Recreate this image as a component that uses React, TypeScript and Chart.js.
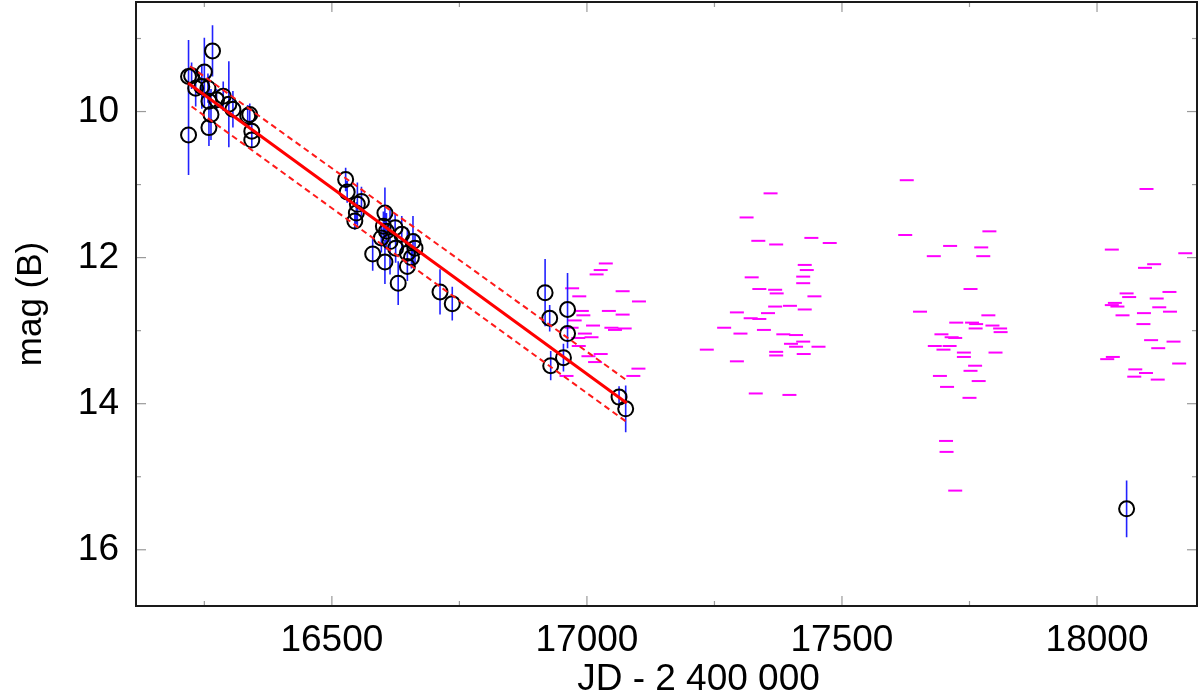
import React, { useEffect, useRef } from "react";
import { Chart, registerables } from "chart.js";

Chart.register(...registerables);

const FONT = "'Liberation Sans', Arial, Helvetica, sans-serif";

// Axis ranges and ticks
const X_MIN = 16116;
const X_MAX = 18196;
const Y_MIN = 8.5;
const Y_MAX = 16.77;
const xMajorTicks = [16500, 17000, 17500, 18000];
const xMinorTicks = [16250, 16750, 17250, 17750];
const yMajorTicks = [10, 12, 14, 16];
const yMinorTicks = [9, 11, 13, 15];

// Photometric points with error bars (JD - 2400000, B mag, error)
const obsJD = [
  16219, 16225, 16233, 16245, 16250, 16257, 16259, 16259, 16263, 16266,
  16274, 16287, 16298, 16306, 16335, 16339, 16343, 16343, 16219,
  16527, 16530, 16545, 16548, 16550, 16558, 16580, 16597, 16601, 16604,
  16604, 16607, 16614, 16624, 16625, 16630, 16637, 16648, 16648, 16656,
  16659, 16663, 16712, 16736,
  16918, 16927, 16929, 16954, 16962, 16962, 17063, 17076, 18058,
];
const obsMag = [
  9.52, 9.51, 9.68, 9.66, 9.46, 9.68, 9.86, 10.22, 10.04, 9.17,
  9.84, 9.79, 9.9, 9.97, 10.06, 10.04, 10.27, 10.39, 10.32,
  10.93, 11.1, 11.5, 11.39, 11.27, 11.23, 11.95, 11.73, 11.57, 11.39,
  12.06, 11.64, 11.78, 11.59, 11.87, 12.35, 11.68, 11.94, 12.12, 12.0,
  11.78, 11.87, 12.47, 12.63,
  12.48, 12.83, 13.48, 13.37, 12.71, 13.04, 13.91, 14.07, 15.44,
];
const obsErr = [
  0.5, 0.18, 0.25, 0.3, 0.47, 0.2, 0.35, 0.25, 0.35, 0.35,
  0.15, 0.2, 0.59, 0.25, 0.15, 0.15, 0.15, 0.1, 0.55,
  0.16, 0.15, 0.12, 0.15, 0.3, 0.2, 0.23, 0.2, 0.2, 0.35,
  0.3, 0.25, 0.45, 0.2, 0.2, 0.3, 0.25, 0.35, 0.2, 0.15,
  0.35, 0.2, 0.31, 0.23,
  0.46, 0.18, 0.2, 0.19, 0.5, 0.2, 0.15, 0.32, 0.39,
];

// Limits (magenta dashes)
const limJD = [
  17037, 17027, 17019, 16971, 17070, 16985, 17102, 16990, 17043, 16993,
  17070, 16976, 17012, 17048, 17074, 17055, 16970, 16996, 17009, 16983,
  16984, 17003, 17027, 17016, 17101, 17091, 16960,
  17235, 17269, 17294, 17294, 17301, 17313, 17321, 17323, 17331, 17336,
  17338, 17338, 17347, 17355, 17360, 17369, 17369, 17371, 17372, 17371,
  17371, 17385, 17397, 17398, 17400, 17410, 17410, 17424, 17424, 17424,
  17425, 17427, 17427, 17431, 17440, 17446, 17454, 17476,
  17627, 17624, 17653, 17680, 17682, 17692, 17695, 17699, 17704, 17705,
  17706, 17712, 17711, 17715, 17722, 17722, 17724, 17739, 17739, 17750,
  17752, 17752, 17755, 17761, 17762, 17763, 17768, 17773, 17777, 17787,
  17789, 17795, 17801, 17810, 17811,
  18020, 18029, 18029, 18031, 18035, 18040, 18050, 18058, 18063, 18073,
  18075, 18091, 18092, 18094, 18096, 18097, 18106, 18112, 18117, 18119,
  18120, 18122, 18142, 18143, 18150, 18161, 18173,
];
const limMag = [
  12.08, 12.17, 12.23, 12.42, 12.46, 12.53, 12.6, 12.73, 12.73, 12.79,
  12.78, 12.86, 12.93, 12.96, 12.97, 12.99, 12.96, 13.04, 13.09, 13.1,
  13.21, 13.35, 13.32, 13.43, 13.52, 13.62, 13.62,
  13.26, 12.96, 12.75, 13.42, 13.04, 11.45, 12.83, 12.27, 13.86, 11.77,
  12.43, 12.84, 12.99, 12.76, 11.12, 12.44, 12.67, 11.82, 12.49, 13.29,
  13.34, 13.05, 13.88, 12.66, 13.18, 13.06, 13.22, 12.26, 12.35, 13.15,
  13.32, 12.1, 12.71, 12.17, 11.73, 12.53, 13.22, 11.8,
  10.94, 11.69, 12.74, 11.98, 13.21, 13.62, 13.05, 13.26, 14.51, 14.66,
  13.77, 11.84, 13.21, 13.09, 13.1, 15.19, 12.89, 13.3, 13.36, 13.92,
  12.43, 13.55, 12.89, 13.48, 12.97, 12.91, 13.69, 11.86, 11.98, 12.79,
  11.64, 12.93, 13.3, 12.97, 13.02,
  13.39, 11.89, 12.65, 13.36, 12.62, 12.67, 12.79, 12.49, 12.54, 13.63,
  13.53, 12.91, 12.76, 12.14, 13.58, 11.06, 13.13, 12.09, 12.56, 13.67,
  13.24, 12.68, 12.47, 12.74, 13.15, 13.45, 11.94,
];

// Linear decline fit and its band
const fitJD = [16218, 17078];
const fitMag = [9.61, 13.99];
const upperJD = [16222, 17080];
const upperMag = [9.38, 13.69];
const lowerJD = [16225, 17078];
const lowerMag = [9.93, 14.25];

const framePlugin = {
  id: "frameTicks",
  afterDatasetsDraw(chart: any) {
    const { ctx, chartArea: a, scales } = chart;
    const x = scales.x;
    const y = scales.y;
    const seg = (x1: number, y1: number, x2: number, y2: number) => {
      ctx.beginPath();
      ctx.moveTo(x1, y1);
      ctx.lineTo(x2, y2);
      ctx.stroke();
    };
    ctx.save();
    ctx.strokeStyle = "#9a9a9a";
    ctx.lineWidth = 1.2;
    const tickX = (v: number, len: number) => {
      const p = x.getPixelForValue(v);
      seg(p, a.bottom, p, a.bottom - len);
      seg(p, a.top, p, a.top + len);
    };
    const tickY = (v: number, len: number) => {
      const p = y.getPixelForValue(v);
      seg(a.left, p, a.left + len, p);
      seg(a.right, p, a.right - len, p);
    };
    xMajorTicks.forEach((v) => tickX(v, 10));
    xMinorTicks.forEach((v) => tickX(v, 5));
    yMajorTicks.forEach((v) => tickY(v, 10));
    yMinorTicks.forEach((v) => tickY(v, 5));
    ctx.strokeStyle = "#1a1a1a";
    ctx.lineWidth = 2;
    ctx.strokeRect(a.left, a.top, a.right - a.left, a.bottom - a.top);
    ctx.restore();
  },
};

export default function App() {
  const ref = useRef<HTMLCanvasElement | null>(null);

  useEffect(() => {
    if (!ref.current) return;

    const errData: any[] = [];
    obsJD.forEach((jd, i) => {
      errData.push({ x: jd, y: obsMag[i] - obsErr[i] });
      errData.push({ x: jd, y: obsMag[i] + obsErr[i] });
      errData.push({ x: jd, y: null });
    });

    const chart = new Chart(ref.current, {
      type: "scatter",
      data: {
        datasets: [
          {
            label: "fit",
            data: fitJD.map((v, i) => ({ x: v, y: fitMag[i] })),
            showLine: true,
            borderColor: "#ff0000",
            borderWidth: 3,
            pointRadius: 0,
            order: 0,
          },
          {
            label: "upper",
            data: upperJD.map((v, i) => ({ x: v, y: upperMag[i] })),
            showLine: true,
            borderColor: "#ff1a1a",
            borderWidth: 2,
            borderDash: [6, 4],
            pointRadius: 0,
            order: 0,
          },
          {
            label: "lower",
            data: lowerJD.map((v, i) => ({ x: v, y: lowerMag[i] })),
            showLine: true,
            borderColor: "#ff1a1a",
            borderWidth: 2,
            borderDash: [6, 4],
            pointRadius: 0,
            order: 0,
          },
          {
            label: "obs",
            data: obsJD.map((v, i) => ({ x: v, y: obsMag[i] })),
            pointStyle: "circle",
            pointRadius: 7.5,
            pointBorderWidth: 2,
            pointBorderColor: "#000000",
            pointBackgroundColor: "rgba(0,0,0,0)",
            order: 1,
          },
          {
            label: "err",
            data: errData,
            showLine: true,
            spanGaps: false,
            borderColor: "#2222ff",
            borderWidth: 1.6,
            pointRadius: 0,
            order: 2,
          },
          {
            label: "limits",
            data: limJD.map((v, i) => ({ x: v, y: limMag[i] })),
            pointStyle: "line",
            pointRadius: 7,
            pointBorderWidth: 2,
            pointBorderColor: "#ff00ff",
            rotation: 0,
            order: 3,
          },
        ],
      },
      options: {
        animation: false,
        responsive: false,
        maintainAspectRatio: false,
        layout: { autoPadding: false, padding: { top: 2, right: 3, left: 0, bottom: 0 } },
        plugins: {
          legend: { display: false },
          tooltip: { enabled: false },
        },
        scales: {
          x: {
            type: "linear",
            min: X_MIN,
            max: X_MAX,
            grid: { display: false },
            border: { display: false },
            afterBuildTicks: (s: any) => {
              s.ticks = xMajorTicks.map((v) => ({ value: v }));
            },
            afterFit: (s: any) => {
              s.height = 92;
              s.paddingLeft = 0;
              s.paddingRight = 0;
              if (!s.__titleShift) {
                const orig = s.drawTitle.bind(s);
                s.drawTitle = function () {
                  this.ctx.save();
                  this.ctx.translate(32, 0);
                  orig();
                  this.ctx.restore();
                };
                s.__titleShift = true;
              }
            },
            ticks: {
              color: "#000",
              font: { family: FONT, size: 37 },
              padding: 5,
              maxRotation: 0,
              autoSkip: false,
              callback: (v: any) => String(v),
            },
            title: {
              display: true,
              text: "JD - 2 400 000",
              color: "#000",
              font: { family: FONT, size: 37, lineHeight: 1 },
              padding: { top: 0, bottom: 0 },
            },
          },
          y: {
            type: "linear",
            min: Y_MIN,
            max: Y_MAX,
            reverse: true,
            grid: { display: false },
            border: { display: false },
            afterBuildTicks: (s: any) => {
              s.ticks = yMajorTicks.map((v) => ({ value: v }));
            },
            afterFit: (s: any) => {
              s.width = 136;
              s.paddingTop = 0;
              s.paddingBottom = 0;
            },
            ticks: {
              color: "#000",
              font: { family: FONT, size: 37 },
              padding: 9,
              autoSkip: false,
              callback: (v: any) => String(v),
            },
            title: {
              display: true,
              text: "mag (B)",
              color: "#000",
              font: { family: FONT, size: 35, lineHeight: 1 },
              padding: { top: 14, bottom: 0 },
            },
          },
        },
      },
      plugins: [framePlugin],
    });

    return () => chart.destroy();
  }, []);

  return (
    <div style={{ position: "fixed", left: 0, top: 0, width: 1200, height: 698, background: "#fff" }}>
      <canvas ref={ref} width={1200} height={698} style={{ display: "block" }} />
    </div>
  );
}
